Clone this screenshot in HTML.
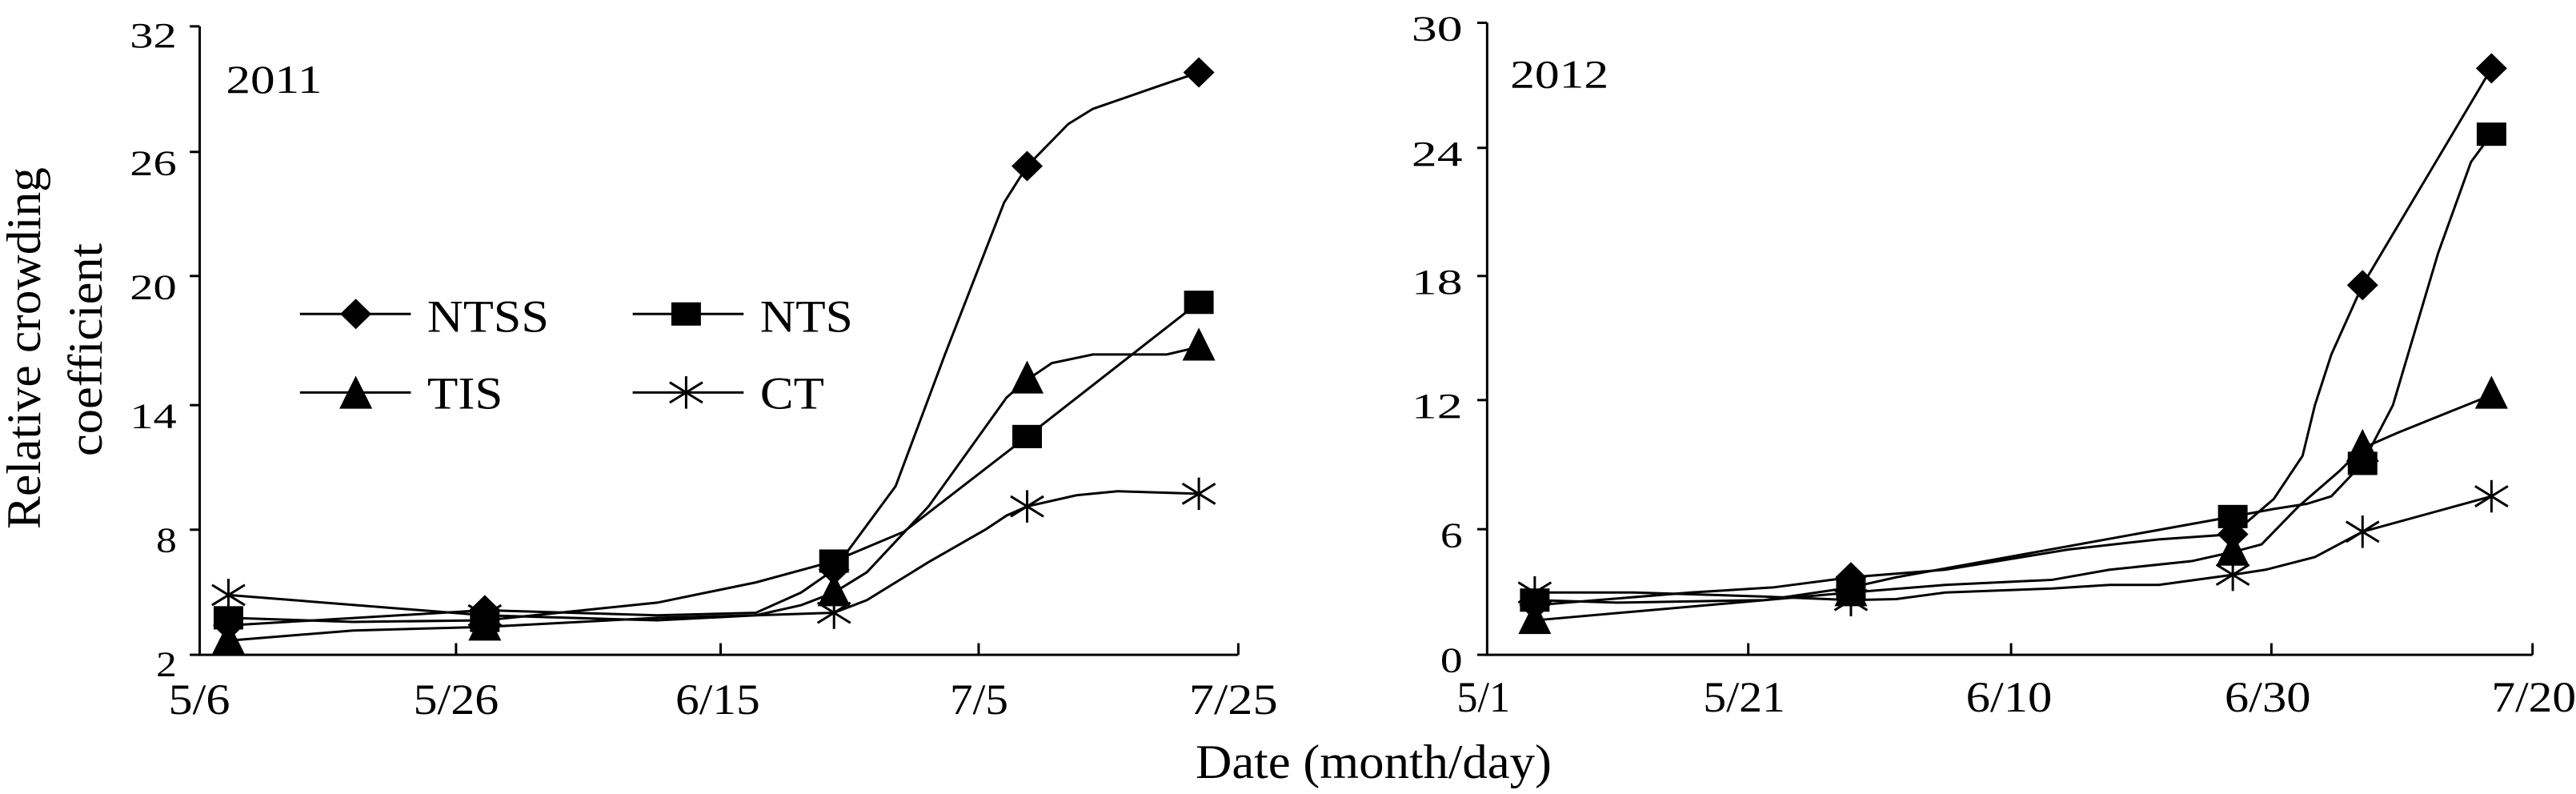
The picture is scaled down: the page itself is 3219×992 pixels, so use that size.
<!DOCTYPE html>
<html><head><meta charset="utf-8"><style>
html,body{margin:0;padding:0;background:#fff;}
svg{display:block;}
text{font-family:"Liberation Serif",serif;fill:#000;}
</style></head><body>
<svg width="3219" height="992" viewBox="0 0 3219 992" xmlns="http://www.w3.org/2000/svg">
<defs>
<g id="dia"><polygon points="0,-30 19,0 0,30 -19,0" fill="#000"/></g>
<g id="sq"><rect x="-18" y="-23" width="36" height="46" fill="#000"/></g>
<g id="tri"><polygon points="0,-38 20,27 -20,27" fill="#000"/></g>
<g id="ast" stroke="#000" stroke-width="3" vector-effect="non-scaling-stroke"><line x1="0" y1="-32" x2="0" y2="32" vector-effect="non-scaling-stroke"/><line x1="-20" y1="-20" x2="20" y2="20" vector-effect="non-scaling-stroke"/><line x1="-20" y1="20" x2="20" y2="-20" vector-effect="non-scaling-stroke"/></g>
</defs>

<!-- LEFT PANEL -->
<g transform="scale(1.0268,0.6327)">
<g fill="none" stroke="#000" stroke-width="3">
<polyline vector-effect="non-scaling-stroke" points="243,52 243,1293 1507,1293"/>
<g vector-effect="non-scaling-stroke">
<line vector-effect="non-scaling-stroke" x1="231" y1="52" x2="243" y2="52"/>
<line vector-effect="non-scaling-stroke" x1="231" y1="300" x2="243" y2="300"/>
<line vector-effect="non-scaling-stroke" x1="231" y1="545" x2="243" y2="545"/>
<line vector-effect="non-scaling-stroke" x1="231" y1="800" x2="243" y2="800"/>
<line vector-effect="non-scaling-stroke" x1="231" y1="1046" x2="243" y2="1046"/>
<line vector-effect="non-scaling-stroke" x1="231" y1="1293" x2="243" y2="1293"/>
<line vector-effect="non-scaling-stroke" x1="555" y1="1270" x2="555" y2="1293"/>
<line vector-effect="non-scaling-stroke" x1="877" y1="1270" x2="877" y2="1293"/>
<line vector-effect="non-scaling-stroke" x1="1191" y1="1270" x2="1191" y2="1293"/>
<line vector-effect="non-scaling-stroke" x1="1507" y1="1270" x2="1507" y2="1293"/>
</g>
<polyline vector-effect="non-scaling-stroke" points="278,1235 590,1205 800,1215 920,1210 975,1170 1015,1125 1090,960 1150,700 1222,400 1250,328 1300,245 1330,215 1410,170 1459,143"/>
<polyline vector-effect="non-scaling-stroke" points="278,1220 430,1228 590,1225 800,1190 920,1150 1015,1108 1100,1050 1250,862 1459,597"/>
<polyline vector-effect="non-scaling-stroke" points="278,1265 430,1245 590,1238 800,1220 920,1215 975,1195 1015,1170 1055,1130 1130,1000 1225,785 1250,750 1280,717 1330,700 1420,700 1459,685"/>
<polyline vector-effect="non-scaling-stroke" points="278,1175 590,1215 800,1225 920,1215 1015,1210 1055,1185 1130,1110 1200,1045 1225,1018 1250,1000 1310,978 1360,970 1459,975"/>
<line vector-effect="non-scaling-stroke" x1="365" y1="620" x2="500" y2="620"/>
<line vector-effect="non-scaling-stroke" x1="770" y1="620" x2="905" y2="620"/>
<line vector-effect="non-scaling-stroke" x1="365" y1="775" x2="500" y2="775"/>
<line vector-effect="non-scaling-stroke" x1="770" y1="775" x2="905" y2="775"/>
</g>
<use href="#dia" x="278" y="1235"/><use href="#dia" x="590" y="1205"/><use href="#dia" x="1015" y="1125"/><use href="#dia" x="1250" y="328"/><use href="#dia" x="1459" y="143"/>
<use href="#sq" x="278" y="1220"/><use href="#sq" x="590" y="1225"/><use href="#sq" x="1015" y="1108"/><use href="#sq" x="1250" y="862"/><use href="#sq" x="1459" y="597"/>
<use href="#tri" x="278" y="1265"/><use href="#tri" x="590" y="1238"/><use href="#tri" x="1015" y="1170"/><use href="#tri" x="1250" y="750"/><use href="#tri" x="1459" y="685"/>
<use href="#ast" x="278" y="1175"/><use href="#ast" x="590" y="1215"/><use href="#ast" x="1015" y="1210"/><use href="#ast" x="1250" y="1000"/><use href="#ast" x="1459" y="975"/>
<use href="#dia" x="433" y="620"/><use href="#sq" x="835" y="620"/><use href="#tri" x="433" y="780"/><use href="#ast" x="835" y="775"/>
<g font-size="70">
<text x="158" y="93" textLength="57" lengthAdjust="spacingAndGlyphs">32</text>
<text x="158" y="345" textLength="57" lengthAdjust="spacingAndGlyphs">26</text>
<text x="158" y="590" textLength="57" lengthAdjust="spacingAndGlyphs">20</text>
<text x="158" y="845" textLength="57" lengthAdjust="spacingAndGlyphs">14</text>
<text x="190" y="1090" textLength="25" lengthAdjust="spacingAndGlyphs">8</text>
<text x="190" y="1335" textLength="25" lengthAdjust="spacingAndGlyphs">2</text>
</g>
<text x="275" y="183" font-size="78" textLength="117" lengthAdjust="spacingAndGlyphs">2011</text>
<g font-size="86">
<text x="205" y="1410" textLength="75" lengthAdjust="spacingAndGlyphs">5/6</text>
<text x="503" y="1410" textLength="104" lengthAdjust="spacingAndGlyphs">5/26</text>
<text x="822" y="1410" textLength="103" lengthAdjust="spacingAndGlyphs">6/15</text>
<text x="1156" y="1410" textLength="71" lengthAdjust="spacingAndGlyphs">7/5</text>
<text x="1447" y="1410" textLength="108" lengthAdjust="spacingAndGlyphs">7/25</text>
</g>
<g font-size="90">
<text x="520" y="655" textLength="148" lengthAdjust="spacingAndGlyphs">NTSS</text>
<text x="925" y="655" textLength="113" lengthAdjust="spacingAndGlyphs">NTS</text>
<text x="520" y="807" textLength="92" lengthAdjust="spacingAndGlyphs">TIS</text>
<text x="925" y="807" textLength="78" lengthAdjust="spacingAndGlyphs">CT</text>
</g>
</g>

<!-- RIGHT PANEL -->
<g transform="translate(1610,0) scale(1.0262,0.6327)">
<g fill="none" stroke="#000" stroke-width="3">
<polyline vector-effect="non-scaling-stroke" points="242,45 242,1293 1515,1293"/>
<line vector-effect="non-scaling-stroke" x1="230" y1="45" x2="242" y2="45"/>
<line vector-effect="non-scaling-stroke" x1="230" y1="292" x2="242" y2="292"/>
<line vector-effect="non-scaling-stroke" x1="230" y1="545" x2="242" y2="545"/>
<line vector-effect="non-scaling-stroke" x1="230" y1="790" x2="242" y2="790"/>
<line vector-effect="non-scaling-stroke" x1="230" y1="1045" x2="242" y2="1045"/>
<line vector-effect="non-scaling-stroke" x1="230" y1="1293" x2="242" y2="1293"/>
<line vector-effect="non-scaling-stroke" x1="560" y1="1270" x2="560" y2="1293"/>
<line vector-effect="non-scaling-stroke" x1="880" y1="1270" x2="880" y2="1293"/>
<line vector-effect="non-scaling-stroke" x1="1197" y1="1270" x2="1197" y2="1293"/>
<line vector-effect="non-scaling-stroke" x1="1515" y1="1270" x2="1515" y2="1293"/>
<polyline vector-effect="non-scaling-stroke" points="300,1195 490,1170 590,1160 685,1140 800,1125 950,1085 1060,1065 1150,1055 1200,985 1235,900 1250,800 1270,700 1308,563 1465,135"/>
<polyline vector-effect="non-scaling-stroke" points="300,1185 400,1190 580,1185 685,1160 740,1140 1150,1020 1200,1005 1240,995 1270,980 1308,915 1345,800 1400,500 1440,320 1465,265"/>
<polyline vector-effect="non-scaling-stroke" points="300,1225 685,1170 800,1155 930,1145 1000,1125 1100,1108 1150,1090 1185,1075 1230,1000 1280,930 1308,885 1350,855 1465,780"/>
<polyline vector-effect="non-scaling-stroke" points="300,1170 420,1170 580,1178 685,1185 740,1183 800,1170 930,1162 1000,1155 1060,1155 1150,1135 1190,1125 1250,1100 1308,1050 1465,980"/>
</g>
<use href="#dia" x="300" y="1195"/><use href="#dia" x="685" y="1140"/><use href="#dia" x="1150" y="1055"/><use href="#dia" x="1308" y="563"/><use href="#dia" x="1465" y="135"/>
<use href="#sq" x="300" y="1185"/><use href="#sq" x="685" y="1160"/><use href="#sq" x="1150" y="1020"/><use href="#sq" x="1308" y="915"/><use href="#sq" x="1465" y="265"/>
<use href="#tri" x="300" y="1225"/><use href="#tri" x="685" y="1170"/><use href="#tri" x="1150" y="1090"/><use href="#tri" x="1308" y="885"/><use href="#tri" x="1465" y="780"/>
<use href="#ast" x="300" y="1170"/><use href="#ast" x="685" y="1185"/><use href="#ast" x="1150" y="1135"/><use href="#ast" x="1308" y="1050"/><use href="#ast" x="1465" y="980"/>
<g font-size="70">
<text x="150" y="80" textLength="62" lengthAdjust="spacingAndGlyphs">30</text>
<text x="150" y="327" textLength="62" lengthAdjust="spacingAndGlyphs">24</text>
<text x="150" y="580" textLength="62" lengthAdjust="spacingAndGlyphs">18</text>
<text x="150" y="825" textLength="62" lengthAdjust="spacingAndGlyphs">12</text>
<text x="185" y="1080" textLength="27" lengthAdjust="spacingAndGlyphs">6</text>
<text x="185" y="1327" textLength="27" lengthAdjust="spacingAndGlyphs">0</text>
</g>
<text x="270" y="173" font-size="78" textLength="120" lengthAdjust="spacingAndGlyphs">2012</text>
<g font-size="86">
<text x="205" y="1405" textLength="65" lengthAdjust="spacingAndGlyphs">5/1</text>
<text x="505" y="1405" textLength="100" lengthAdjust="spacingAndGlyphs">5/21</text>
<text x="825" y="1405" textLength="105" lengthAdjust="spacingAndGlyphs">6/10</text>
<text x="1140" y="1405" textLength="105" lengthAdjust="spacingAndGlyphs">6/30</text>
<text x="1465" y="1405" textLength="103" lengthAdjust="spacingAndGlyphs">7/20</text>
</g>
</g>

<text x="1494" y="972" font-size="60" textLength="445" lengthAdjust="spacingAndGlyphs">Date (month/day)</text>
<text transform="translate(50,435) rotate(-90)" text-anchor="middle" font-size="60" textLength="452" lengthAdjust="spacingAndGlyphs">Relative crowding</text>
<text transform="translate(127,437) rotate(-90)" text-anchor="middle" font-size="60" textLength="266" lengthAdjust="spacingAndGlyphs">coefficient</text>
</svg>
</body></html>
